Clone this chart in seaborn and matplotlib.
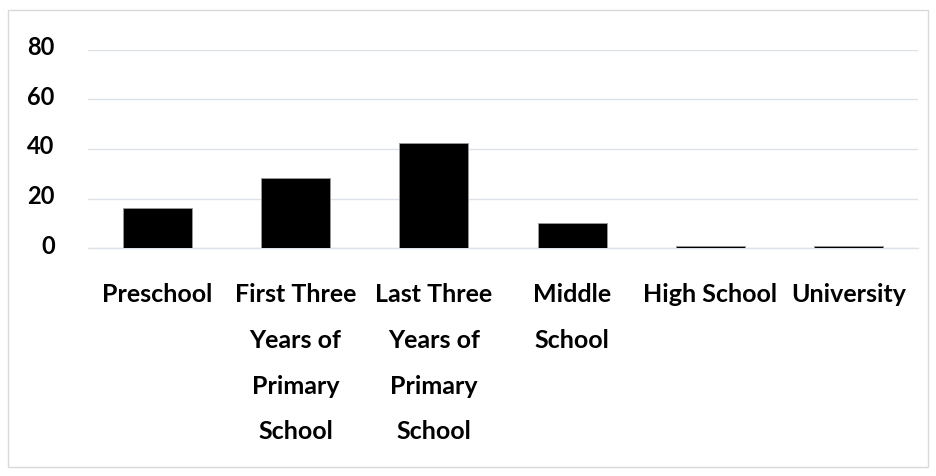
import matplotlib
matplotlib.use("Agg")
import matplotlib.pyplot as plt
import matplotlib.transforms as mtransforms
import seaborn as sns
import pandas as pd

# Education levels and their shares
levels = [
    "Preschool",
    "First Three\nYears of\nPrimary\nSchool",
    "Last Three\nYears of\nPrimary\nSchool",
    "Middle\nSchool",
    "High School",
    "University",
]
values = [16.3, 28.2, 42.4, 10.3, 0.8, 0.8]
y_ticks = [0, 20, 40, 60, 80]

df = pd.DataFrame({"level": levels, "value": values})

sns.set_theme(style="white")
plt.rcParams["font.family"] = ["Lato", "DejaVu Sans"]

fig = plt.figure(figsize=(9.37, 4.76), dpi=100)
ax = fig.add_axes([88 / 937, 1 - 248.3 / 476, (918 - 88) / 937, (248.3 - 49.5) / 476])

sns.barplot(data=df, x="level", y="value", color="black", width=0.5,
            edgecolor="#9a9a9a", linewidth=0.6, saturation=1, ax=ax, zorder=3)

ax.set_ylim(0, 80)
ax.set_xlim(-0.5, len(levels) - 0.5)
ax.set_yticks(y_ticks)
ax.set_yticklabels([str(t) for t in y_ticks], fontsize=17, fontweight="bold",
                   color="#000000")
ax.set_xticklabels(levels, fontsize=18, fontweight="bold", color="#000000",
                   linespacing=2.2, va="top")
ax.tick_params(axis="y", length=0, pad=24)
ax.tick_params(axis="x", length=0, pad=25)
ax.set_xlabel("")
ax.set_ylabel("")

# Value labels sit slightly above their gridlines
lift = mtransforms.ScaledTranslation(0, 4 / 100, fig.dpi_scale_trans)
for lab in ax.get_yticklabels():
    lab.set_transform(lab.get_transform() + lift)

ax.yaxis.grid(True, color="#dde2e8", linewidth=1.0, zorder=0)
ax.set_axisbelow(True)
for side in ["top", "right", "left"]:
    ax.spines[side].set_visible(False)
ax.spines["bottom"].set_color("#dde2e8")
ax.spines["bottom"].set_linewidth(1.0)

# Light frame around the whole figure
frame = plt.Rectangle((8 / 937, 1 - 467 / 476), (928 - 8) / 937, (467 - 10) / 476,
                      transform=fig.transFigure, fill=False,
                      edgecolor="#d9d9d9", linewidth=1.0)
fig.patches.append(frame)

fig.savefig("out.png", dpi=100)
